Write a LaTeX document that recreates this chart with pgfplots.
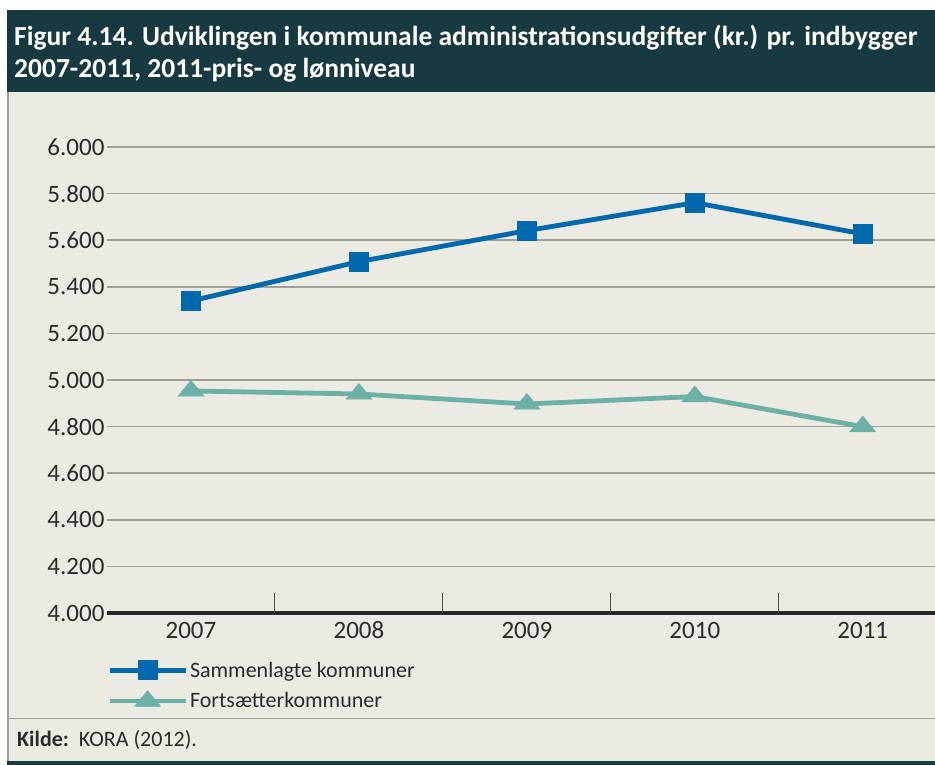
\documentclass[border=0pt]{standalone}
\usepackage{pgfplots}
\pgfplotsset{compat=1.18}
\usepackage{fontspec}
\setmainfont{Carlito}
\definecolor{titlebg}{HTML}{163A40}
\definecolor{panel}{HTML}{EBEAE3}
\definecolor{sblue}{HTML}{0069AE}
\definecolor{steal}{HTML}{6BB1A6}
\definecolor{gridc}{HTML}{A09F9A}
\definecolor{txt}{HTML}{2B2B2B}
\begin{document}
\begin{tikzpicture}[x=1pt,y=1pt]
\useasboundingbox (0,0) rectangle (935,765);
\fill[white] (0,0) rectangle (935,765);
\fill[panel] (7,0) rectangle (935,673);
\fill[titlebg] (7,673) rectangle (935,755);
\draw[gridc, line width=1.5pt] (7.75,3) -- (7.75,673);
\draw[gridc, line width=1pt] (7,46) -- (935,46);
\fill[titlebg] (7,0) rectangle (935,4);
\node[anchor=west, text=white, font=\bfseries\fontsize{27.5}{32}\selectfont, align=left, inner sep=0pt] at (14,711) {Figur 4.14. Udviklingen i kommunale administrationsudgifter (kr.) pr. indbygger\\2007-2011, 2011-pris- og lønniveau};
\node[anchor=west, text=txt, font=\fontsize{22}{24}\selectfont, inner sep=0pt] at (17,25) {\textbf{Kilde:}\ \ KORA (2012).};
\begin{axis}[
  at={(107pt,152pt)}, anchor=south west, scale only axis,
  width=828pt, height=466pt,
  xmin=-0.5, xmax=4.43, ymin=4000, ymax=6000,
  clip=false,
  axis line style={draw=none},
  ytick={4000,4200,...,6000},
  ymajorgrids, grid style={gridc, line width=1.5pt},
  major tick length=0pt,
  xtick={0,...,4}, xticklabels={2007,2008,2009,2010,2011},
  /pgf/number format/.cd, fixed, 1000 sep={.}, assume math mode=true,
  /pgfplots/.cd,
  tick label style={font=\fontsize{25}{28}\selectfont, text=txt},
  yticklabel style={xshift=1pt},
  xticklabel style={text height=18pt, text depth=0pt, yshift=-4pt},
  legend style={at={(0,-0.1)}, anchor=north west, draw=none, fill=none,
    font=\fontsize{22}{24}\selectfont, text=txt, row sep=10pt, inner sep=0pt},
  legend cell align=left,
  legend image code/.code={\draw[mark repeat=2, mark phase=2, #1] plot coordinates {(0pt,0pt) (38pt,0pt) (76pt,0pt)};},
]
\draw[black!85, line width=4pt] (axis cs:-0.5,4000) -- (axis cs:4.43,4000);
\draw[black!70, line width=1pt] (axis cs:0.5,4000) -- (axis cs:0.5,4086);
\draw[black!70, line width=1pt] (axis cs:1.5,4000) -- (axis cs:1.5,4086);
\draw[black!70, line width=1pt] (axis cs:2.5,4000) -- (axis cs:2.5,4086);
\draw[black!70, line width=1pt] (axis cs:3.5,4000) -- (axis cs:3.5,4086);
\addplot[sblue, line width=4.8pt, mark=square*, mark size=9.5pt, mark options={solid, line width=0.5pt}]
  coordinates {(0,5339)(1,5508)(2,5641)(3,5761)(4,5627)};
\addlegendentry{Sammenlagte kommuner}
\addplot[steal, line width=4.8pt, mark=triangle*, mark size=15pt, mark options={solid, line width=0.5pt, yscale=0.7}]
  coordinates {(0,4953)(1,4940)(2,4897)(3,4929)(4,4800)};
\addlegendentry{Fortsætterkommuner}
\end{axis}
\end{tikzpicture}
\end{document}
